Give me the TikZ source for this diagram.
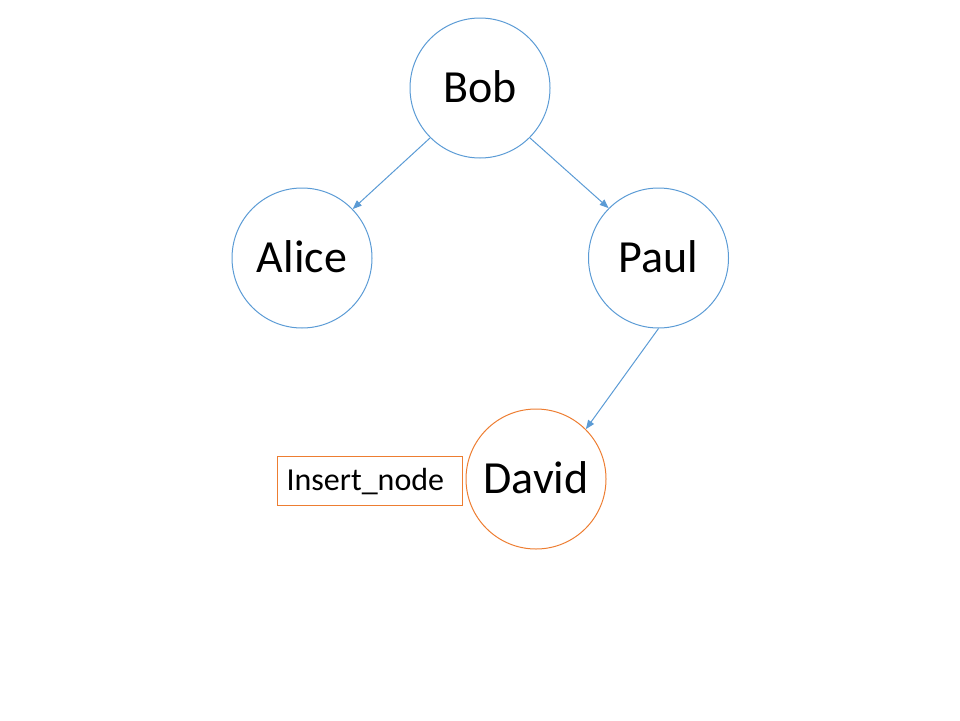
\documentclass[tikz,border=0pt]{standalone}
\usepackage{fontspec}
\setmainfont{Carlito}
\usetikzlibrary{arrows.meta}
\definecolor{nodeblue}{HTML}{5B9BD5}
\definecolor{nodeorange}{HTML}{ED7D31}
\tikzset{
  person/.style={circle, draw=nodeblue, line width=1pt, minimum size=140pt, inner sep=0pt,
    font=\fontsize{46}{50}\selectfont, text height=29.6pt, text depth=0pt},
  newperson/.style={person, draw=nodeorange},
  link/.style={draw=nodeblue, line width=1pt, -{Triangle[length=9pt,width=7pt]}},
  tag/.style={rectangle, draw=nodeorange, line width=1pt, minimum width=185pt, minimum height=49pt,
    text width=165.8pt, align=left, inner xsep=9.6pt, inner ysep=0pt,
    font=\fontsize{32}{36}\selectfont, text height=20.6pt, text depth=0pt}
}
\begin{document}
\begin{tikzpicture}[x=1pt,y=-1pt]
\useasboundingbox (0,0) rectangle (960,720);
\node[person] (bob) at (480,88) {Bob};
\node[person] (alice) at (302,258) {Alice};
\node[person] (paul) at (658.5,258) {Paul};
\node[newperson] (david) at (536,479) {David};
\node[tag] (ins) at (369.5,480.5) {Insert\_node};
\draw[link] (bob.225.6) -- (alice.44.4);
\draw[link] (bob.315.6) -- (paul.135.9);
\draw[link] (paul.270) -- (david.45.6);
\end{tikzpicture}
\end{document}
